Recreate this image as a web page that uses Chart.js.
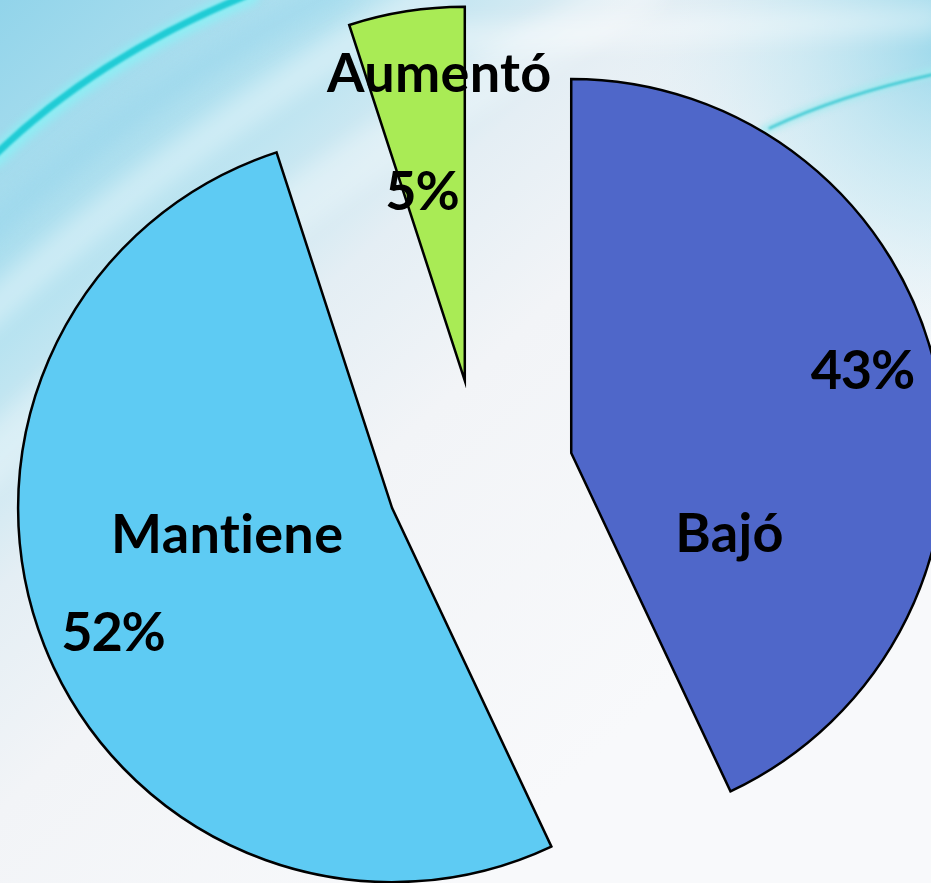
<!DOCTYPE html>
<html>
<head>
<meta charset="utf-8">
<script src="https://cdn.jsdelivr.net/npm/chart.js@4.4.1/dist/chart.umd.min.js"></script>
<style>
  html, body { margin: 0; padding: 0; background: #f5f7fa; }
  #wrap { position: relative; width: 931px; height: 883px; }
</style>
</head>
<body>
<div id="wrap"><canvas id="c"></canvas></div>
<script>
// ---- data ----
const categories = ['Bajó', 'Mantiene', 'Aumentó'];
const values = [43, 52, 5];
const sliceColors = ['#4F67C9', '#5ECBF3', '#A9EB55'];

// ---- label placement (fraction of slice angle, fraction of radius) ----
const namePlacement = [[0.789, 0.500], [0.534, 0.457], [0.72, 0.776]];
const pctPlacement  = [[0.501, 0.797], [0.471, 0.838], [0.215, 0.470]];
const EXPLODE = 94;

const total = values.reduce((a, b) => a + b, 0);
const pctLabels = values.map(v => Math.round(v / total * 100) + '%');

// exploded slices: translate each arc along its bisector without growing it
const baseArcDraw = Chart.ArcElement.prototype.draw;
Chart.ArcElement.prototype.draw = function (ctx) {
  const half = (this.startAngle + this.endAngle) / 2;
  ctx.save();
  ctx.translate(Math.cos(half) * EXPLODE, Math.sin(half) * EXPLODE);
  baseArcDraw.call(this, ctx);
  ctx.restore();
};

const backgroundPlugin = {
  id: 'bgWaves',
  beforeDraw(chart) {
    const ctx = chart.ctx;
    const W = chart.width, H = chart.height;
    ctx.save();
    let g = ctx.createLinearGradient(0, 0, W * 0.7, H * 0.8);
    g.addColorStop(0, '#92d4ea');
    g.addColorStop(0.25, '#b4e2f0');
    g.addColorStop(0.45, '#e4eef4');
    g.addColorStop(0.62, '#f2f4f7');
    g.addColorStop(1, '#f8f9fb');
    ctx.fillStyle = g;
    ctx.fillRect(0, 0, W, H);

    // top-right bluish corner
    let g2 = ctx.createRadialGradient(W + 20, 40, 10, W + 20, 40, 360);
    g2.addColorStop(0, 'rgba(120,205,230,0.7)');
    g2.addColorStop(0.5, 'rgba(175,225,240,0.4)');
    g2.addColorStop(1, 'rgba(235,242,247,0)');
    ctx.fillStyle = g2;
    ctx.fillRect(0, 0, W, H);

    // soft wispy bands
    ctx.filter = 'blur(10px)';
    ctx.lineCap = 'round';
    const bands = [
      [-20, 320, 190, 130, 440, -10, 'rgba(255,255,255,0.35)', 34],
      [-20, 470, 270, 190, 640, -10, 'rgba(255,255,255,0.3)', 50],
      [-20, 240, 140, 90, 340, -10, 'rgba(140,210,235,0.35)', 24],
      [430, 40, 650, 30, 931, 20, 'rgba(255,255,255,0.35)', 30]
    ];
    bands.forEach(b => {
      ctx.strokeStyle = b[6]; ctx.lineWidth = b[7];
      ctx.beginPath(); ctx.moveTo(b[0], b[1]);
      ctx.quadraticCurveTo(b[2], b[3], b[4], b[5]); ctx.stroke();
    });

    // teal swoosh glow top-left
    ctx.filter = 'blur(4px)';
    ctx.strokeStyle = 'rgba(140,240,245,0.9)'; ctx.lineWidth = 18;
    ctx.beginPath(); ctx.moveTo(-5, 158); ctx.quadraticCurveTo(95, 60, 250, -4); ctx.stroke();
    ctx.filter = 'blur(1px)';
    ctx.strokeStyle = 'rgba(20,200,210,0.9)'; ctx.lineWidth = 7;
    ctx.beginPath(); ctx.moveTo(-5, 155); ctx.quadraticCurveTo(95, 58, 245, -4); ctx.stroke();

    // teal swoosh top-right
    ctx.filter = 'blur(3px)';
    ctx.strokeStyle = 'rgba(160,235,240,0.7)'; ctx.lineWidth = 10;
    ctx.beginPath(); ctx.moveTo(765, 130); ctx.quadraticCurveTo(840, 95, 935, 72); ctx.stroke();
    ctx.filter = 'blur(0.8px)';
    ctx.strokeStyle = 'rgba(40,195,205,0.75)'; ctx.lineWidth = 3;
    ctx.beginPath(); ctx.moveTo(770, 128); ctx.quadraticCurveTo(840, 95, 935, 74); ctx.stroke();
    ctx.filter = 'none';
    ctx.restore();
  }
};

const labelPlugin = {
  id: 'sliceLabels',
  afterDatasetsDraw(chart) {
    const ctx = chart.ctx;
    const meta = chart.getDatasetMeta(0);
    ctx.save();
    ctx.font = 'bold 54px Lato, "Open Sans", sans-serif';
    ctx.textRendering = 'optimizeSpeed';
    ctx.fillStyle = '#000';
    ctx.textAlign = 'center';
    ctx.textBaseline = 'alphabetic';
    meta.data.forEach((arc, i) => {
      const half = (arc.startAngle + arc.endAngle) / 2;
      const ax = arc.x + Math.cos(half) * EXPLODE;
      const ay = arc.y + Math.sin(half) * EXPLODE;
      const R = arc.outerRadius;
      [[categories[i], namePlacement[i], '0.3px'], [pctLabels[i], pctPlacement[i], '-1.2px']].forEach(([txt, p, ls]) => {
        ctx.letterSpacing = ls;
        const a = arc.startAngle + p[0] * (arc.endAngle - arc.startAngle);
        ctx.fillText(txt, ax + Math.cos(a) * p[1] * R, ay + Math.sin(a) * p[1] * R);
      });
    });
    ctx.restore();
  }
};

new Chart(document.getElementById('c'), {
  type: 'pie',
  data: {
    labels: categories,
    datasets: [{
      data: values,
      backgroundColor: sliceColors,
      borderColor: '#000',
      borderWidth: 2.5,
      borderJoinStyle: 'miter',
      clip: false
    }]
  },
  options: {
    responsive: true,
    maintainAspectRatio: false,
    animation: false,
    radius: 374,
    layout: { padding: { left: 28, right: 0, top: 64, bottom: 0 } },
    plugins: { legend: { display: false }, tooltip: { enabled: false } },
    events: []
  },
  plugins: [backgroundPlugin, labelPlugin]
});
</script>
</body>
</html>
